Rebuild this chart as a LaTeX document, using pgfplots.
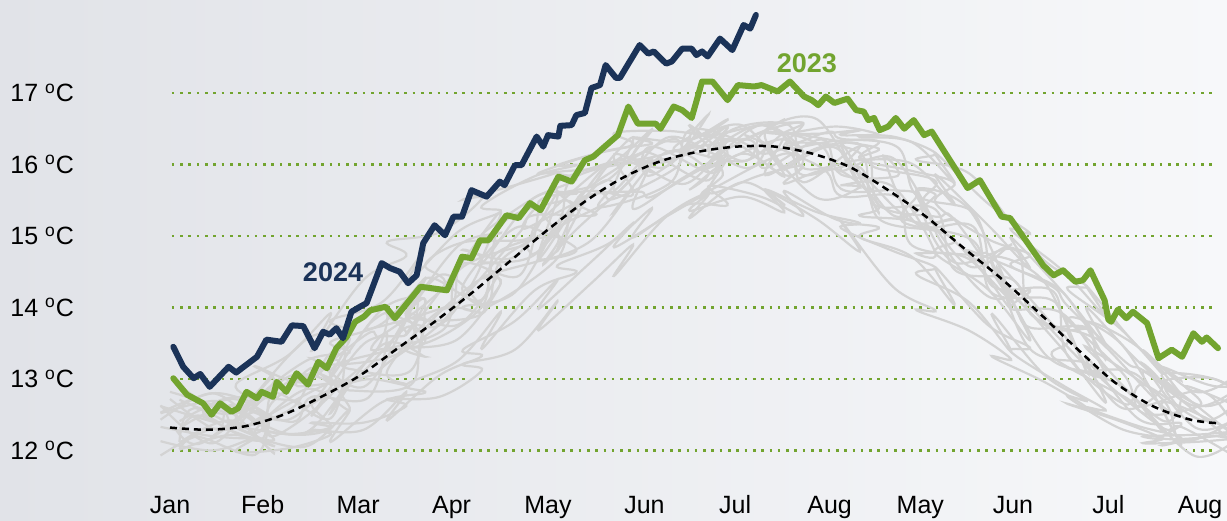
\documentclass[border=0pt]{standalone}
\usepackage{fontspec}
\setmainfont{Liberation Sans}
\usepackage{pgfplots}
\pgfplotsset{compat=1.18}
\definecolor{navy}{RGB}{27,51,88}
\definecolor{lgreen}{RGB}{114,164,47}
\definecolor{spag}{RGB}{211,211,211}
\definecolor{bgL}{RGB}{225,227,232}
\definecolor{bgR}{RGB}{247,248,250}
\begin{document}
\begin{tikzpicture}
\begin{axis}[
  width=613.5pt, height=260.5pt, scale only axis,
  xmin=-1.799, xmax=11.185, ymin=11.014, ymax=18.30,
  axis line style={draw=none}, tick style={draw=none},
  axis background/.style={left color=bgL, right color=bgR},
  xtick={0,0.98,1.99,2.98,4,5.02,5.98,6.98,7.94,8.92,9.93,10.9},
  xticklabels={Jan,Feb,Mar,Apr,May,Jun,Jul,Aug,May,Jun,Jul,Aug},
  xticklabel style={anchor=base, inner sep=0pt, yshift=3.5pt, font=\fontsize{12.5}{15}\selectfont},
  ytick={12,...,17},
  yticklabels={12 \textsuperscript{o}C,13 \textsuperscript{o}C,14 \textsuperscript{o}C,15 \textsuperscript{o}C,16 \textsuperscript{o}C,17 \textsuperscript{o}C},
  yticklabel style={anchor=west, inner sep=0pt, xshift=5pt, font=\fontsize{12.5}{15}\selectfont},
  clip=true,
]
% grid lines
\pgfplotsinvokeforeach{12,...,17}{
  \draw[lgreen, line width=1.3pt, dash pattern=on 1.3pt off 2.85pt] (axis cs:0.02,#1) -- (axis cs:11.03,#1);
}
% spaghetti (past years)
\pgfplotsset{spg/.style={spag, line width=1.1pt, smooth, tension=0.6}}
\addplot[spg] coordinates {(-0.10,12.62) (0.50,12.39) (0.35,12.55) (0.65,12.74) (1.30,12.70) (1.50,12.65) (2.15,13.34) (2.30,13.92) (2.10,13.70) (2.90,14.00) (3.15,14.21) (3.70,15.05) (3.85,15.29) (4.50,15.29) (4.30,15.50) (4.70,15.92) (5.30,16.35) (5.50,16.18) (6.10,16.05) (6.30,16.45) (6.90,16.25) (7.10,15.66) (7.65,15.64) (7.90,15.57) (7.75,15.20) (8.50,14.93) (8.70,14.20) (9.30,14.12) (9.50,13.82) (10.10,13.05) (10.30,12.52) (10.90,12.63) (10.75,12.90) (11.20,12.67)};
\addplot[spg] coordinates {(0.10,12.02) (0.30,12.19) (0.90,11.94) (1.05,12.50) (0.85,12.35) (1.70,12.95) (1.90,12.84) (2.55,12.92) (2.70,13.70) (3.30,14.41) (3.50,14.35) (3.35,14.00) (4.10,14.69) (4.30,15.49) (4.95,15.62) (5.10,15.55) (5.70,15.98) (5.85,15.85) (5.65,15.60) (6.50,16.15) (6.70,15.85) (7.30,15.96) (7.50,15.24) (8.10,15.07) (8.30,14.93) (8.90,14.10) (8.75,14.55) (9.10,13.42) (9.70,13.22) (9.90,12.95) (10.50,12.32) (10.70,12.33) (11.20,11.97)};
\addplot[spg] coordinates {(0.00,12.82) (0.55,12.59) (0.70,12.44) (0.50,12.25) (1.30,13.00) (1.50,13.05) (2.10,13.64) (2.25,13.62) (2.90,14.30) (2.70,14.60) (3.10,14.91) (3.75,14.95) (3.90,15.19) (4.50,15.89) (4.70,16.02) (5.30,16.05) (5.50,16.38) (5.35,16.20) (6.10,16.35) (6.30,16.15) (6.95,16.45) (7.10,16.36) (7.70,16.24) (7.90,15.57) (8.50,15.33) (8.65,14.60) (8.45,14.80) (9.30,14.32) (9.50,14.02) (10.10,13.25) (10.30,13.12) (10.90,12.63) (11.25,12.77)};
\addplot[spg] coordinates {(0.05,12.32) (0.30,12.09) (0.90,12.54) (1.10,12.20) (1.75,12.85) (1.55,13.10) (1.90,12.94) (2.50,13.72) (2.70,13.50) (3.30,14.01) (3.45,14.75) (4.10,14.99) (3.95,14.60) (4.30,15.09) (4.90,15.82) (5.10,16.25) (5.75,15.88) (5.90,16.35) (6.50,15.85) (6.70,16.05) (6.55,16.30) (7.30,16.16) (7.45,15.44) (8.10,15.37) (8.30,14.53) (8.90,14.40) (9.10,14.02) (9.75,13.12) (9.90,13.15) (9.70,13.45) (10.50,12.72) (10.70,12.13) (11.20,12.37)};
\addplot[spg] coordinates {(-0.10,12.52) (0.50,12.69) (0.70,12.34) (1.30,12.60) (1.50,13.15) (1.35,12.90) (2.10,13.04) (2.30,13.22) (2.95,13.90) (3.10,14.61) (3.70,14.45) (3.90,15.39) (3.75,15.10) (4.50,15.59) (4.70,15.52) (5.35,15.95) (5.50,16.28) (6.10,15.95) (6.30,16.25) (6.10,16.40) (6.90,15.95) (7.10,15.56) (7.70,15.54) (7.85,14.87) (8.50,14.73) (8.70,14.70) (9.30,13.82) (9.50,13.52) (9.35,13.30) (10.10,12.75) (10.30,12.62) (10.90,12.83) (11.20,12.47)};
\addplot[spg] coordinates {(0.10,12.22) (0.30,12.49) (0.95,12.14) (1.10,12.80) (1.70,12.45) (1.85,13.44) (1.65,13.20) (2.50,13.42) (2.70,14.40) (3.30,14.11) (3.50,15.15) (4.15,15.49) (4.30,15.39) (4.10,15.75) (4.90,16.12) (5.10,16.15) (5.70,15.78) (5.90,16.45) (6.55,16.55) (6.70,15.95) (7.30,16.06) (7.50,15.94) (8.10,15.77) (7.95,15.40) (8.30,14.63) (8.95,14.80) (9.10,13.92) (9.70,13.62) (9.90,13.45) (10.50,12.62) (10.70,12.53) (10.55,12.85) (11.20,12.17)};
\addplot[spg] coordinates {(0.00,12.72) (0.50,12.29) (0.65,12.64) (1.30,12.40) (1.50,12.75) (2.10,12.74) (2.30,13.62) (2.15,13.40) (2.90,13.70) (3.05,14.51) (3.70,14.85) (3.90,14.79) (4.50,15.69) (4.70,15.72) (4.55,15.40) (5.30,15.75) (5.50,16.48) (6.15,16.25) (6.30,15.95) (6.90,16.35) (7.10,15.86) (7.70,15.84) (7.55,16.10) (7.90,15.17) (8.50,15.13) (8.70,14.30) (9.35,14.22) (9.50,13.32) (10.10,12.65) (10.30,12.92) (10.90,12.43) (11.20,12.57)};
\addplot[spg] coordinates {(0.10,12.12) (0.25,12.59) (0.90,12.24) (1.10,12.70) (1.70,13.25) (1.90,13.14) (2.55,13.12) (2.70,14.10) (2.55,13.85) (3.30,13.91) (3.50,14.65) (4.10,15.19) (4.25,15.79) (4.90,16.02) (5.10,15.85) (5.70,16.38) (5.90,16.15) (5.70,15.95) (6.50,16.35) (6.70,15.75) (7.35,16.26) (7.50,15.44) (8.10,15.27) (8.30,15.23) (8.90,14.10) (9.10,13.72) (9.70,13.72) (9.85,13.25) (10.50,12.42) (10.70,12.73) (10.55,12.95) (11.20,12.27)};
\addplot[spg] coordinates {(-0.10,12.63) (0.45,12.10) (0.90,12.78) (0.70,12.33) (1.25,13.03) (1.70,12.92) (1.50,12.49) (2.05,13.49) (2.50,13.62) (2.30,13.92) (2.85,13.75) (3.30,14.62) (3.10,14.81) (3.65,14.71) (4.10,15.59) (3.90,14.68) (4.45,15.73) (4.90,16.38) (4.70,15.64) (5.25,16.37) (5.70,16.20) (5.50,16.55) (6.05,16.05) (6.50,16.43) (6.30,15.85) (6.85,16.23) (7.30,16.28) (7.10,15.91) (7.65,16.09) (8.10,15.16) (7.90,15.66) (8.45,15.38) (8.90,14.18) (8.70,14.71) (9.25,14.36) (9.70,13.10) (9.50,13.85) (10.05,13.51) (10.50,12.57) (10.30,13.10) (10.85,12.62) (11.30,12.87)};
\addplot[spg] coordinates {(-0.10,11.93) (0.45,12.30) (0.90,12.18) (0.70,12.53) (1.25,12.23) (1.70,12.32) (1.50,12.69) (2.05,12.99) (2.50,12.92) (2.30,13.12) (2.85,13.95) (3.30,13.92) (3.10,14.01) (3.65,14.21) (4.10,15.19) (3.90,14.68) (4.45,14.93) (4.90,15.68) (4.70,15.34) (5.25,16.17) (5.70,15.90) (5.50,15.65) (6.05,16.15) (6.50,15.83) (6.30,16.25) (6.85,15.53) (7.30,15.68) (7.10,15.71) (7.65,15.69) (8.10,14.76) (7.90,14.76) (8.45,14.68) (8.90,13.98) (8.70,14.61) (9.25,13.36) (9.70,13.10) (9.50,13.15) (10.05,12.91) (10.50,12.27) (10.30,12.60) (10.85,11.92) (11.30,12.17)};
\addplot[spg] coordinates {(-0.10,12.43) (0.45,12.80) (0.90,12.38) (0.70,12.63) (1.25,12.43) (1.70,13.02) (1.50,13.29) (2.05,12.89) (2.50,13.82) (2.30,13.42) (2.85,14.45) (3.30,14.02) (3.10,14.31) (3.65,15.11) (4.10,14.99) (3.90,15.48) (4.45,15.63) (4.90,15.58) (4.70,16.14) (5.25,15.97) (5.70,16.70) (5.50,16.35) (6.05,16.55) (6.50,15.93) (6.30,16.45) (6.85,16.63) (7.30,15.68) (7.10,16.31) (7.65,15.29) (8.10,15.56) (7.90,15.56) (8.45,14.58) (8.90,14.88) (8.70,14.61) (9.25,13.76) (9.70,13.70) (9.50,13.65) (10.05,12.61) (10.50,12.87) (10.30,13.20) (10.85,12.32) (11.30,12.47)};
\addplot[spg] coordinates {(0.10,12.31) (0.65,12.62) (1.10,12.16) (0.90,12.28) (1.45,12.86) (1.90,12.57) (1.70,13.12) (2.25,13.38) (2.70,13.51) (2.50,13.92) (3.05,13.76) (3.50,14.54) (3.30,14.62) (3.85,14.73) (4.30,15.49) (4.10,14.79) (4.65,16.00) (5.10,15.89) (4.90,16.08) (5.45,15.73) (5.90,16.33) (5.70,16.00) (6.25,16.55) (6.70,16.18) (6.50,15.93) (7.05,16.23) (7.50,15.32) (7.30,15.88) (7.85,15.21) (8.30,15.24) (8.10,15.06) (8.65,14.16) (9.10,14.24) (8.90,13.98) (9.45,13.91) (9.90,13.07) (9.70,13.10) (10.25,13.04) (10.70,12.08) (10.50,12.67) (11.05,12.40) (11.50,12.05)};
\addplot[spg] coordinates {(0.10,12.91) (0.65,12.52) (1.10,12.96) (0.90,13.18) (1.45,12.96) (1.90,13.57) (1.70,13.02) (2.25,13.98) (2.70,14.11) (2.50,13.62) (3.05,14.56) (3.50,15.34) (3.30,14.62) (3.85,15.53) (4.30,15.59) (4.10,15.59) (4.65,15.80) (5.10,16.49) (4.90,16.08) (5.45,16.13) (5.90,16.53) (5.70,16.10) (6.25,16.45) (6.70,16.58) (6.50,16.23) (7.05,16.33) (7.50,16.32) (7.30,16.08) (7.85,15.91) (8.30,15.74) (8.10,15.46) (8.65,14.96) (9.10,14.74) (8.90,14.58) (9.45,14.21) (9.90,13.27) (9.70,13.80) (10.25,13.44) (10.70,12.78) (10.50,12.97) (11.05,13.00) (11.50,12.65)};
\addplot[spg] coordinates {(0.10,12.11) (0.65,12.42) (1.10,11.96) (0.90,12.28) (1.45,12.26) (1.90,12.97) (1.70,12.52) (2.25,13.48) (2.70,13.31) (2.50,13.42) (3.05,13.56) (3.50,14.34) (3.30,14.42) (3.85,14.63) (4.30,14.79) (4.10,15.09) (4.65,15.50) (5.10,16.09) (4.90,15.38) (5.45,15.83) (5.90,16.13) (5.70,15.60) (6.25,15.85) (6.70,15.98) (6.50,15.73) (7.05,15.93) (7.50,15.42) (7.30,15.28) (7.85,15.21) (8.30,14.94) (8.10,14.76) (8.65,14.26) (9.10,13.54) (8.90,14.18) (9.45,13.41) (9.90,12.67) (9.70,13.30) (10.25,12.44) (10.70,12.38) (10.50,12.17) (11.05,12.20) (11.50,12.35)};
\addplot[spg] coordinates {(0.10,12.71) (0.65,12.52) (1.10,13.06) (0.90,12.78) (1.45,13.56) (1.90,13.67) (1.70,13.82) (2.25,14.08) (2.70,14.81) (2.50,14.32) (3.05,15.06) (3.50,15.34) (3.30,15.42) (3.85,15.83) (4.30,15.99) (4.10,15.99) (4.65,16.20) (5.10,16.29) (4.90,16.38) (5.45,16.33) (5.90,16.63) (5.70,16.40) (6.25,16.55) (6.70,16.58) (6.50,16.43) (7.05,16.53) (7.50,16.42) (7.30,16.38) (7.85,16.31) (8.30,15.74) (8.10,16.16) (8.65,15.46) (9.10,15.04) (8.90,15.08) (9.45,14.51) (9.90,13.87) (9.70,14.30) (10.25,13.44) (10.70,12.98) (10.50,13.17) (11.05,12.90) (11.50,12.95)};
\addplot[spg] coordinates {(-0.10,12.53) (0.45,12.80) (0.90,12.68) (0.70,12.93) (1.25,13.33) (1.70,13.92) (1.50,13.39) (2.05,14.39) (2.50,14.72) (2.30,14.92) (2.85,15.05) (3.30,15.52) (3.10,15.51) (3.65,15.71) (4.10,15.89) (3.90,15.88) (4.45,16.13) (4.90,16.28) (4.70,16.44) (5.25,16.47) (5.70,16.40) (5.50,16.45) (6.05,16.35) (6.50,16.63) (6.30,16.45) (6.85,16.43) (7.30,16.48) (7.10,16.41) (7.65,16.39) (8.10,16.16) (7.90,16.06) (8.45,15.88) (8.90,15.18) (8.70,15.51) (9.25,14.66) (9.70,14.30) (9.50,14.25) (10.05,13.71) (10.50,13.07) (10.30,13.40) (10.85,12.82) (11.30,13.07)};
\addplot[spg] coordinates {(0.10,12.41) (0.65,12.72) (1.10,12.46) (0.90,12.68) (1.45,13.26) (1.90,13.37) (1.70,13.52) (2.25,13.78) (2.70,14.41) (2.50,13.92) (3.05,14.86) (3.50,15.04) (3.30,15.02) (3.85,15.53) (4.30,15.79) (4.10,15.89) (4.65,16.00) (5.10,16.49) (4.90,16.08) (5.45,16.23) (5.90,16.53) (5.70,16.20) (6.25,16.55) (6.70,16.18) (6.50,16.43) (7.05,16.33) (7.50,16.22) (7.30,16.08) (7.85,16.01) (8.30,15.44) (8.10,15.86) (8.65,15.16) (9.10,14.54) (8.90,14.98) (9.45,14.21) (9.90,13.47) (9.70,14.00) (10.25,13.24) (10.70,12.78) (10.50,13.07) (11.05,13.00) (11.50,12.65)};
\addplot[spg] coordinates {(-0.10,12.13) (0.45,12.00) (0.90,12.18) (0.70,11.98) (1.25,12.03) (1.70,12.22) (1.50,12.29) (2.05,12.29) (2.50,12.82) (2.30,12.42) (2.85,13.05) (3.30,13.32) (3.10,13.41) (3.65,13.81) (4.10,14.39) (3.90,13.98) (4.45,14.63) (4.90,15.18) (4.70,14.84) (5.25,15.27) (5.70,15.60) (5.50,15.35) (6.05,15.55) (6.50,15.33) (6.30,15.65) (6.85,15.33) (7.30,15.18) (7.10,15.11) (7.65,14.79) (8.10,14.56) (7.90,14.46) (8.45,14.08) (8.90,13.38) (8.70,13.91) (9.25,13.06) (9.70,12.70) (9.50,12.75) (10.05,12.31) (10.50,12.17) (10.30,12.10) (10.85,12.12) (11.30,12.17)};
\addplot[spg] coordinates {(0.10,12.01) (0.65,12.22) (1.10,12.06) (0.90,12.18) (1.45,12.06) (1.90,12.57) (1.70,12.12) (2.25,12.68) (2.70,12.81) (2.50,12.92) (3.05,13.26) (3.50,13.94) (3.30,13.42) (3.85,14.23) (4.30,14.49) (4.10,14.59) (4.65,14.90) (5.10,15.39) (4.90,14.98) (5.45,15.43) (5.90,15.43) (5.70,15.70) (6.25,15.55) (6.70,15.28) (6.50,15.63) (7.05,15.23) (7.50,15.12) (7.30,14.98) (7.85,14.71) (8.30,14.04) (8.10,14.56) (8.65,13.76) (9.10,13.44) (8.90,13.38) (9.45,12.91) (9.90,12.57) (9.70,12.60) (10.25,12.34) (10.70,12.18) (10.50,12.07) (11.05,12.20) (11.50,12.05)};
\addplot[spg] coordinates {(-0.10,12.33) (0.45,12.20) (0.90,12.18) (0.70,12.33) (1.25,12.23) (1.70,12.32) (1.50,12.39) (2.05,12.39) (2.50,12.62) (2.30,12.72) (2.85,12.75) (3.30,13.12) (3.10,13.21) (3.65,13.41) (4.10,14.09) (3.90,13.68) (4.45,14.33) (4.90,14.88) (4.70,14.44) (5.25,15.27) (5.70,15.60) (5.50,15.25) (6.05,15.75) (6.50,15.43) (6.30,15.65) (6.85,15.23) (7.30,14.78) (7.10,15.21) (7.65,14.29) (8.10,13.96) (7.90,13.96) (8.45,13.68) (8.90,13.28) (8.70,13.31) (9.25,12.96) (9.70,12.60) (9.50,12.65) (10.05,12.41) (10.50,12.17) (10.30,12.20) (10.85,12.22) (11.30,12.27)};
% long-term mean
\addplot[black, line width=1.25pt, dash pattern=on 3.5pt off 2.5pt, smooth] coordinates {
(0.0,12.32) (0.4,12.29) (0.8,12.34) (1.2,12.50) (1.6,12.75) (2.0,13.04) (2.4,13.42) (2.8,13.80) (3.2,14.21) (3.6,14.65) (4.0,15.09) (4.4,15.49) (4.8,15.82) (5.2,16.05) (5.6,16.18) (6.0,16.25) (6.4,16.25) (6.8,16.15) (7.2,15.96) (7.6,15.64) (8.0,15.27) (8.4,14.83) (8.8,14.40) (9.2,13.92) (9.6,13.42) (10.0,12.95) (10.4,12.62) (10.8,12.43) (11.1,12.38)};
% 2023
\addplot[lgreen, line width=3pt, line join=round, line cap=round] coordinates {
(0.035,13.01) (0.18,12.78) (0.35,12.66) (0.44,12.50) (0.53,12.66) (0.65,12.54) (0.72,12.59) (0.81,12.82) (0.92,12.73) (0.97,12.82) (1.09,12.75) (1.13,12.96) (1.23,12.82) (1.34,13.08) (1.46,12.92) (1.57,13.24) (1.66,13.15) (1.76,13.43) (1.87,13.59) (1.96,13.80) (2.05,13.87) (2.12,13.96) (2.28,14.01) (2.38,13.85) (2.65,14.29) (2.93,14.24) (3.09,14.71) (3.19,14.69) (3.28,14.94) (3.37,14.94) (3.56,15.29) (3.69,15.25) (3.81,15.46) (3.92,15.36) (4.11,15.83) (4.25,15.76) (4.39,16.06) (4.48,16.11) (4.60,16.25) (4.74,16.41) (4.85,16.81) (4.95,16.57) (5.14,16.57) (5.19,16.50) (5.33,16.81) (5.42,16.76) (5.52,16.65) (5.63,17.16) (5.74,17.16) (5.90,16.90) (6.01,17.11) (6.18,17.09) (6.26,17.11) (6.43,17.02) (6.56,17.16) (6.71,16.95) (6.79,16.90) (6.86,16.83) (6.94,16.95) (7.03,16.86) (7.17,16.92) (7.26,16.76) (7.34,16.74) (7.39,16.62) (7.45,16.65) (7.51,16.48) (7.60,16.53) (7.68,16.65) (7.77,16.50) (7.87,16.62) (7.98,16.41) (8.06,16.46) (8.44,15.67) (8.57,15.78) (8.80,15.27) (8.89,15.25) (9.24,14.59) (9.35,14.45) (9.45,14.52) (9.58,14.36) (9.66,14.38) (9.74,14.52) (9.89,14.10) (9.93,13.83) (9.96,13.80) (10.03,13.97) (10.12,13.85) (10.19,13.94) (10.34,13.78) (10.46,13.29) (10.60,13.41) (10.71,13.31) (10.83,13.64) (10.92,13.52) (10.97,13.58) (11.09,13.43)};
% 2024
\addplot[navy, line width=3pt, line join=round, line cap=round] coordinates {
(0.035,13.45) (0.14,13.17) (0.25,13.01) (0.32,13.07) (0.42,12.89) (0.62,13.17) (0.70,13.09) (0.92,13.31) (1.02,13.55) (1.18,13.52) (1.29,13.75) (1.41,13.74) (1.53,13.43) (1.62,13.66) (1.69,13.62) (1.76,13.71) (1.83,13.57) (1.92,13.94) (2.01,14.01) (2.08,14.06) (2.24,14.62) (2.33,14.55) (2.43,14.50) (2.52,14.34) (2.61,14.45) (2.68,14.90) (2.80,15.15) (2.91,15.01) (3.00,15.27) (3.09,15.27) (3.19,15.64) (3.35,15.55) (3.49,15.76) (3.54,15.71) (3.65,15.99) (3.72,15.99) (3.88,16.39) (3.95,16.25) (4.00,16.41) (4.11,16.39) (4.13,16.54) (4.25,16.55) (4.30,16.69) (4.39,16.72) (4.46,17.07) (4.55,17.11) (4.61,17.39) (4.72,17.21) (4.76,17.21) (4.97,17.67) (5.06,17.55) (5.12,17.58) (5.25,17.41) (5.31,17.44) (5.42,17.62) (5.52,17.62) (5.57,17.53) (5.63,17.58) (5.69,17.51) (5.82,17.76) (5.95,17.60) (6.07,17.95) (6.14,17.90) (6.20,18.09)};
% series labels
\node[text=navy, font=\bfseries\fontsize{13.5}{16}\selectfont] at (axis cs:1.725,14.50) {2024};
\node[text=lgreen, font=\bfseries\fontsize{13.5}{16}\selectfont] at (axis cs:6.74,17.42) {2023};
\end{axis}
\end{tikzpicture}
\end{document}
